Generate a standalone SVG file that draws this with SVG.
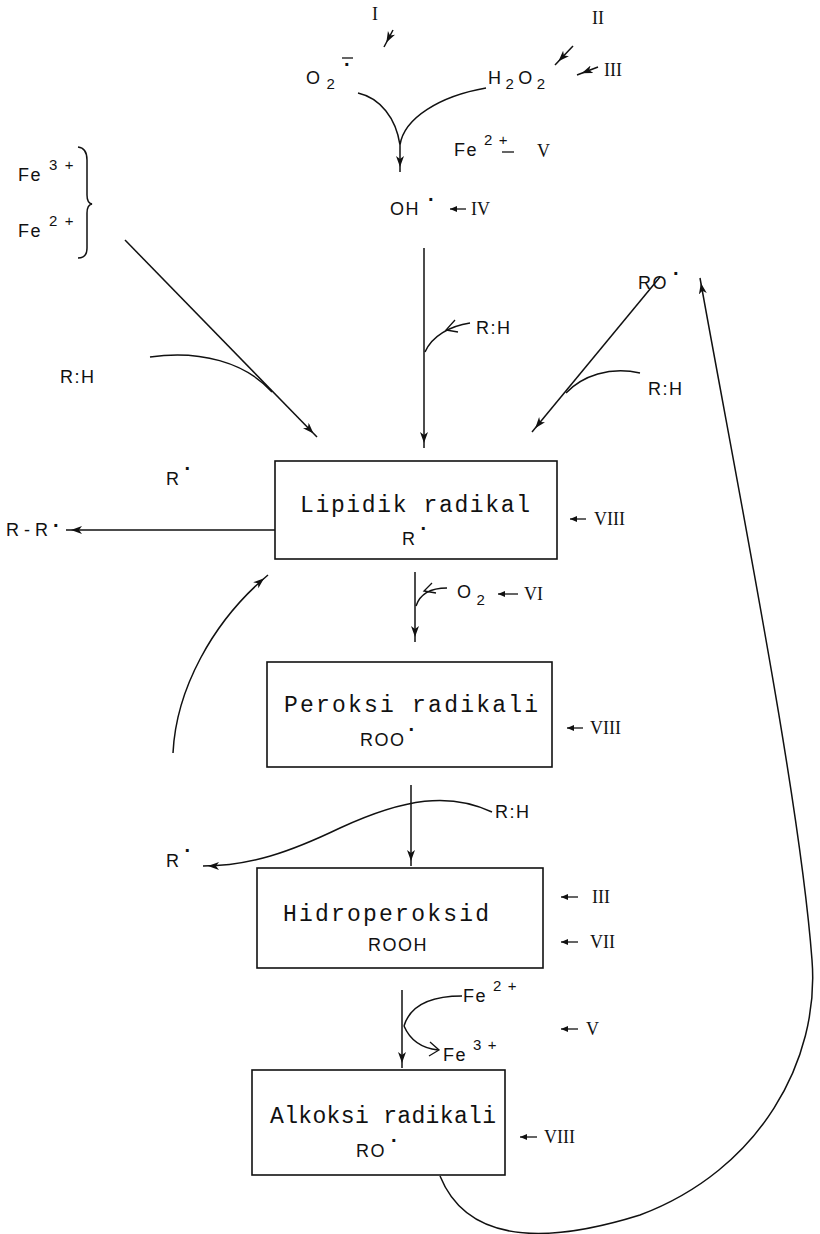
<svg xmlns="http://www.w3.org/2000/svg" width="820" height="1234" viewBox="0 0 820 1234">
<style>
.bg{fill:#fff}
.box{fill:#fff;stroke:#111;stroke-width:1.6}
.ln{fill:none;stroke:#111;stroke-width:1.5}
.thin{fill:none;stroke:#111;stroke-width:1.3}
.mono{font-family:"Liberation Mono","DejaVu Sans Mono",monospace;font-size:23px;fill:#111}
.sans{font-family:"Liberation Sans","DejaVu Sans",sans-serif;font-size:18px;fill:#111;letter-spacing:1.5px}
.sub{font-family:"Liberation Sans","DejaVu Sans",sans-serif;font-size:15px;fill:#111}
.dot{font-family:"Liberation Sans","DejaVu Sans",sans-serif;font-size:20px;fill:#111;font-weight:bold}
.rom{font-family:"Liberation Serif","DejaVu Serif",serif;font-size:18px;fill:#111}
</style>
<defs>
<marker id="ah" markerUnits="userSpaceOnUse" markerWidth="14" markerHeight="10" refX="16" refY="4" orient="auto">
<path d="M0,0 L11,4 L0,8 L3,4 z" fill="#111"/>
</marker>
<marker id="sa" markerUnits="userSpaceOnUse" markerWidth="8" markerHeight="6" refX="0" refY="3" orient="auto">
<path d="M7,0 L0,3 L7,6 z" fill="#111"/>
</marker>
</defs>
<rect class="bg" x="0" y="0" width="820" height="1234"/>

<g id="connectors">
<line class="ln" x1="393" y1="30" x2="384" y2="47" marker-end="url(#ah)"/>
<line class="ln" x1="573" y1="46" x2="555" y2="65" marker-end="url(#ah)"/>
<line class="ln" x1="598" y1="67" x2="577" y2="75" marker-end="url(#ah)"/>
<path class="ln" d="M358,93 C380,98 396,118 400,145 C404,118 440,96 486,88"/>
<line class="ln" x1="400" y1="145" x2="400" y2="172" marker-end="url(#ah)"/>
<line class="ln" x1="125" y1="240" x2="317" y2="437" marker-end="url(#ah)"/>
<path class="ln" d="M150,357 C200,350 245,362 272,392 L268,388"/>
<line class="ln" x1="424" y1="248" x2="424" y2="448" marker-end="url(#ah)"/>
<path class="ln" d="M470,323 C450,326 432,336 425,352"/>
<polyline class="thin" points="455,320 446,330 458,332"/>
<line class="ln" x1="660" y1="277" x2="532" y2="432" marker-end="url(#ah)"/>
<path class="ln" d="M640,373 C610,366 582,376 566,393"/>
<path class="ln" d="M440,1176 C470,1250 560,1240 640,1215 C760,1170 820,1060 812,960 C800,800 740,500 700,278" marker-end="url(#ah)"/>
<line class="ln" x1="275" y1="530" x2="66" y2="530" marker-end="url(#ah)"/>
<path class="ln" d="M173,753 C176,690 212,622 268,575" marker-end="url(#ah)"/>
<line class="ln" x1="415" y1="572" x2="415" y2="642" marker-end="url(#ah)"/>
<path class="ln" d="M447,588 C430,588 420,594 416,606"/>
<polyline class="thin" points="432,583 424,591 436,593"/>
<line class="ln" x1="411" y1="785" x2="411" y2="866" marker-end="url(#ah)"/>
<path class="ln" d="M492,812 C450,792 405,798 340,828 C290,852 250,866 203,866" marker-end="url(#ah)"/>
<line class="ln" x1="402" y1="990" x2="402" y2="1068" marker-end="url(#ah)"/>
<path class="ln" d="M462,996 C430,996 410,1006 404,1026"/>
<path class="ln" d="M404,1026 C410,1040 420,1048 438,1050"/>
<polyline class="thin" points="430,1042 439,1050 429,1056"/>
<line class="thin" x1="502" y1="152" x2="514" y2="152"/>
<line class="thin" x1="342" y1="58" x2="353" y2="58"/>
<line class="thin" x1="450" y1="209" x2="466" y2="209" marker-start="url(#sa)"/>
<line class="thin" x1="570" y1="519" x2="586" y2="519" marker-start="url(#sa)"/>
<line class="thin" x1="498" y1="594" x2="518" y2="594" marker-start="url(#sa)"/>
<line class="thin" x1="567" y1="728" x2="583" y2="728" marker-start="url(#sa)"/>
<line class="thin" x1="561" y1="897" x2="578" y2="897" marker-start="url(#sa)"/>
<line class="thin" x1="561" y1="942" x2="578" y2="942" marker-start="url(#sa)"/>
<line class="thin" x1="561" y1="1029" x2="578" y2="1029" marker-start="url(#sa)"/>
<line class="thin" x1="520" y1="1137" x2="537" y2="1137" marker-start="url(#sa)"/>
<path class="ln" d="M78,147 Q87,148 87,160 L87,195 Q87,203 92,204 Q87,205 87,213 L87,248 Q87,258 78,258"/>
</g>

<g id="top">
<text class="rom" x="372" y="20">I</text>
<text class="dot" x="344" y="71">·</text>
<text class="sans" x="306" y="84">O<tspan class="sub" dx="5" dy="5">2</tspan></text>
<text class="rom" x="592" y="24">II</text>
<text class="sans" x="488" y="84">H<tspan class="sub" dx="3" dy="5">2</tspan><tspan dx="3" dy="-5">O</tspan><tspan class="sub" dx="3" dy="5">2</tspan></text>
<text class="rom" x="604" y="76">III</text>
<text class="sans" x="454" y="156">Fe<tspan class="sub" dx="6" dy="-11">2</tspan><tspan class="sub" dx="5">+</tspan></text>
<text class="rom" x="537" y="157">V</text>
<text class="sans" x="390" y="215">OH<tspan class="dot" dx="8" dy="-9">·</tspan></text>
<text class="rom" x="471" y="215">IV</text>
</g>

<g id="iron">
<text class="sans" x="18" y="181">Fe<tspan class="sub" dx="7" dy="-11">3</tspan><tspan class="sub" dx="6">+</tspan></text>
<text class="sans" x="18" y="237">Fe<tspan class="sub" dx="7" dy="-11">2</tspan><tspan class="sub" dx="6">+</tspan></text>
</g>

<g id="rh-left"><text class="sans" x="60" y="383">R:H</text></g>
<g id="rh-center"><text class="sans" x="476" y="334">R:H</text></g>
<g id="ro-top"><text class="sans" x="638" y="289">RO<tspan class="dot" dx="5" dy="-9">·</tspan></text></g>
<g id="rh-right"><text class="sans" x="648" y="395">R:H</text></g>

<g id="lipidik">
<rect class="box" x="275" y="461" width="282" height="98"/>
<text class="mono" x="300" y="512" textLength="230">Lipidik radikal</text>
<text class="sans" x="402" y="545">R<tspan class="dot" dx="4" dy="-10">·</tspan></text>
<text class="rom" x="594" y="525">VIII</text>
</g>
<g id="rr">
<text class="sans" x="166" y="485">R<tspan class="dot" dx="4" dy="-10">·</tspan></text>
<text class="sans" x="6" y="536" style="letter-spacing:0">R - R <tspan class="dot" dy="-4">·</tspan></text>
</g>

<g id="o2-vi">
<text class="sans" x="457" y="598">O<tspan class="sub" dx="4" dy="7">2</tspan></text>
<text class="rom" x="524" y="600">VI</text>
</g>

<g id="peroksi">
<rect class="box" x="267" y="662" width="285" height="105"/>
<text class="mono" x="284" y="712" textLength="254">Peroksi radikali</text>
<text class="sans" x="360" y="746">ROO<tspan class="dot" dx="3" dy="-10">·</tspan></text>
<text class="rom" x="590" y="734">VIII</text>
</g>

<g id="rh-lower">
<text class="sans" x="495" y="818">R:H</text>
<text class="sans" x="166" y="867">R<tspan class="dot" dx="4" dy="-10">·</tspan></text>
</g>

<g id="hidro">
<rect class="box" x="257" y="868" width="286" height="100"/>
<text class="mono" x="283" y="921" textLength="206">Hidroperoksid</text>
<text class="sans" x="368" y="951">ROOH</text>
<text class="rom" x="592" y="903">III</text>
<text class="rom" x="590" y="948">VII</text>
</g>

<g id="iron-lower">
<text class="sans" x="463" y="1002">Fe<tspan class="sub" dx="6" dy="-11">2</tspan><tspan class="sub" dx="5">+</tspan></text>
<text class="sans" x="443" y="1061">Fe<tspan class="sub" dx="6" dy="-11">3</tspan><tspan class="sub" dx="5">+</tspan></text>
<text class="rom" x="586" y="1035">V</text>
</g>

<g id="alkoksi">
<rect class="box" x="252" y="1070" width="253" height="105"/>
<text class="mono" x="270" y="1123" textLength="226">Alkoksi radikali</text>
<text class="sans" x="356" y="1157">RO<tspan class="dot" dx="5" dy="-10">·</tspan></text>
<text class="rom" x="544" y="1143">VIII</text>
</g>
</svg>
